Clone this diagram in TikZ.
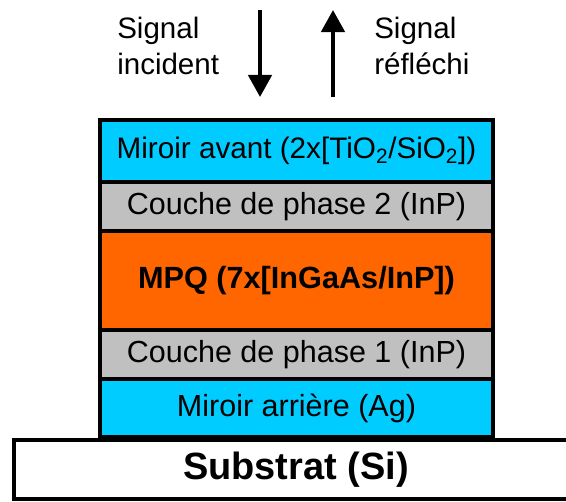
\documentclass[tikz,border=0pt]{standalone}
\usepackage{fontspec}
\setmainfont{Liberation Sans}
\usetikzlibrary{arrows.meta, positioning}
\definecolor{mirror}{HTML}{00CCFF}
\definecolor{phase}{HTML}{C0C0C0}
\definecolor{mqw}{HTML}{FF6600}

\begin{document}
\begin{tikzpicture}[
    x=0.025cm, y=-0.025cm,
    node distance=0pt,
    every node/.style={font=\fontsize{21.7}{26}\selectfont},
    layer/.style={draw, line width=2.3pt, inner sep=0pt, outer sep=0pt, minimum width=9.825cm},
    signal/.style={align=left, anchor=west, inner sep=0pt, font=\fontsize{21}{26}\selectfont},
    arrow/.style={-{Triangle[length=0.55cm, width=0.58cm]}, line width=2.8pt}
]
    \useasboundingbox (0,0) rectangle (566,501);

    \node[layer, fill=white, minimum width=14.1cm, minimum height=1.475cm, font=\fontsize{27}{30}\selectfont\bfseries] (substrate) at (296,469.5) {Substrat (Si)};

    \node[layer, fill=mirror, minimum height=1.55cm, font=\fontsize{21.1}{26}\selectfont] (front) at (296.5,151) {Miroir avant (2x[TiO\textsubscript{2}/SiO\textsubscript{2}])};
    \node[layer, fill=phase, minimum height=1.225cm, below=of front] (phase2) {Couche de phase 2 (InP)};
    \node[layer, fill=mqw, minimum height=2.475cm, below=of phase2, font=\fontsize{21.8}{26}\selectfont\bfseries] (mpq) {MPQ (7x[InGaAs/InP])};
    \node[layer, fill=phase, minimum height=1.225cm, below=of mpq] (phase1) {Couche de phase 1 (InP)};
    \node[layer, fill=mirror, minimum height=1.45cm, below=of phase1] (back) {Miroir arrière (Ag)};

    \node[signal] (incident) at (117,46) {Signal\\incident};
    \node[signal] (reflected) at (374,46) {Signal\\réfléchi};

    \coordinate (inTop) at (260,10);
    \coordinate (inTip) at (260,97);
    \coordinate (outTail) at (333,97);
    \coordinate (outTip) at (333,10);
    \draw[arrow] (inTop) -- (inTip);
    \draw[arrow] (outTail) -- (outTip);
\end{tikzpicture}
\end{document}
